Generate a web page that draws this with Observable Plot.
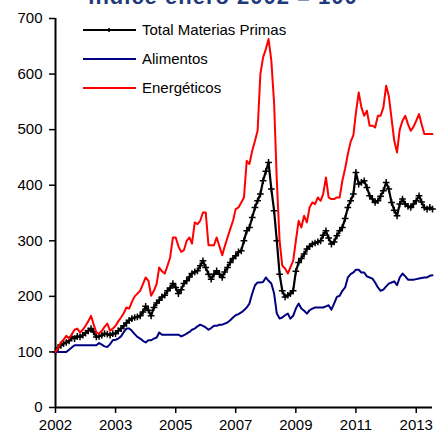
<!DOCTYPE html>
<html>
<head>
<meta charset="utf-8">
<script src="https://cdn.jsdelivr.net/npm/d3@7"></script>
<script src="https://cdn.jsdelivr.net/npm/@observablehq/plot@0.6"></script>
<style>
  html, body { margin: 0; padding: 0; background: #fff; }
  #chart { position: relative; width: 436px; height: 436px; overflow: hidden; }
</style>
</head>
<body>
<div id="chart"></div>
<script>
// Monthly categories: January 2002 to July 2013
const startMonth = "2002-01-01";
const endMonthExclusive = "2013-08-01";

const seriesNames = ["Total Materias Primas", "Alimentos", "Energéticos"];
const seriesColors = ["#000000", "#000080", "#FF0000"];

// Total Materias Primas (índice enero 2002 = 100)
const total = [
  100,108,112,115,117,120,127,124,128,127,130,134,
  138,142,136,127,128,130,133,132,130,133,133,138,
  142,147,152,157,160,162,163,165,172,182,175,165,
  180,188,193,199,202,210,215,223,216,205,212,223,
  228,235,241,244,246,255,264,252,240,231,240,246,
  240,234,244,252,261,268,273,280,282,300,318,324,
  342,360,372,384,408,425,441,393,354,300,240,210,
  199,202,205,210,245,261,268,276,285,290,294,296,
  298,300,310,318,305,294,298,309,318,324,340,360,
  372,384,423,402,405,408,396,381,375,369,372,380,
  390,405,393,369,355,345,366,375,366,362,360,366,
  372,381,370,360,357,360,357
];

// Alimentos
const alimentos = [
  100,100,100,100,100,104,108,112,112,112,112,112,
  112,112,112,112,116,113,110,109,114,121,122,124,
  128,136,142,142,138,132,127,124,120,117,121,121,
  124,126,135,131,131,131,131,131,131,131,128,130,
  133,136,140,142,146,149,147,144,140,143,147,147,
  149,149,151,153,157,162,166,168,171,175,180,187,
  205,220,225,225,226,234,228,223,205,169,160,162,
  166,169,160,165,178,187,178,174,169,175,178,180,
  180,180,180,182,184,176,187,199,201,210,216,234,
  240,243,248,248,243,243,236,234,232,225,216,210,
  212,218,223,225,227,220,234,241,236,230,230,230,
  231,232,233,234,234,237,238
];

// Energéticos
const energeticos = [
  100,108,117,122,129,124,132,140,142,135,140,147,
  155,165,150,135,133,138,145,151,138,142,147,155,
  162,170,180,178,190,200,205,210,222,234,228,201,
  210,223,252,245,241,255,270,306,306,290,280,283,
  300,306,295,333,330,336,351,351,292,292,292,306,
  290,274,290,306,321,336,357,360,369,378,444,438,
  462,480,498,600,630,645,663,624,547,408,300,255,
  250,241,252,264,300,336,324,345,333,360,369,366,
  378,372,384,414,378,375,375,378,378,408,430,456,
  478,490,530,567,540,525,534,507,507,504,525,525,
  540,579,561,520,480,459,500,516,525,510,498,505,
  516,528,510,492,492,492,492
];

// Axis ticks (Excel category axis: one label every 22 months)
const xTickDates = ["2002-01-01","2003-11-01","2005-09-01","2007-07-01","2009-05-01","2011-03-01","2013-01-01"];
const xTickLabels = ["2002","2003","2005","2007","2009","2011","2013"];
const yTicks = [0,100,200,300,400,500,600,700];

const titleText = "Índice enero 2002 = 100";

const months = d3.utcMonth.range(new Date(startMonth), new Date(endMonthExclusive));
const rows = [];
[total, alimentos, energeticos].forEach((vals, s) => {
  vals.forEach((v, i) => rows.push({date: months[i], value: v, series: seriesNames[s]}));
});
const totalRows = rows.filter(d => d.series === seriesNames[0]);
const tickDates = xTickDates.map(d => new Date(d));
const labelFor = new Map(tickDates.map((d, i) => [+d, xTickLabels[i]]));

const plot = Plot.plot({
  width: 436,
  height: 436,
  marginLeft: 55,
  marginRight: 4,
  marginTop: 18,
  marginBottom: 29,
  style: {fontFamily: "'Liberation Sans', Arial, sans-serif", fontSize: "15px", color: "#000", background: "#fff", overflow: "visible"},
  x: {type: "utc", domain: [months[0], months[months.length - 1]]},
  y: {domain: [0, 700]},
  color: {domain: seriesNames, range: seriesColors},
  marks: [
    Plot.axisX({ticks: tickDates, tickFormat: d => labelFor.get(+d), tickSize: 6, tickPadding: 6, stroke: "#000", strokeWidth: 1.5, label: null, fontSize: 15}),
    Plot.axisY({ticks: yTicks, tickSize: 6, tickPadding: 7, stroke: "#000", strokeWidth: 1.5, label: null, fontSize: 15}),
    Plot.ruleY([0], {stroke: "#000", strokeWidth: 2}),
    Plot.ruleX([months[0]], {y1: 0, y2: 700, stroke: "#000", strokeWidth: 2}),
    Plot.line(rows.filter(d => d.series === seriesNames[0]), {x: "date", y: "value", stroke: "series", strokeWidth: 2.2}),
    Plot.dot(totalRows, {x: "date", y: "value", symbol: "plus", r: 2.3, stroke: "#000", strokeWidth: 1.5}),
    Plot.line(rows.filter(d => d.series === seriesNames[1]), {x: "date", y: "value", stroke: "series", strokeWidth: 2}),
    Plot.line(rows.filter(d => d.series === seriesNames[2]), {x: "date", y: "value", stroke: "series", strokeWidth: 2})
  ]
});

document.getElementById("chart").appendChild(plot);

// Title (partly cut off at the top, as in the reference)
const svg = d3.select(plot);
svg.append("text")
  .attr("x", 223).attr("y", 4)
  .attr("text-anchor", "middle")
  .attr("font-size", 22).attr("font-weight", "bold")
  .attr("fill", "#1F3A7A")
  .attr("letter-spacing", "1px")
  .text(titleText);

// Legend inside plot area
const legendRowsY = [30, 59, 88];
const lg = svg.append("g")
  .attr("font-size", 15)
  .attr("font-family", "'Liberation Sans', Arial, sans-serif")
  .attr("text-anchor", "start");
seriesNames.forEach((name, i) => {
  const y = legendRowsY[i];
  lg.append("line").attr("x1", 83).attr("x2", 136).attr("y1", y).attr("y2", y)
    .attr("stroke", seriesColors[i]).attr("stroke-width", 2);
  if (i === 0) {
    lg.append("path").attr("d", `M107,${y}h4M109,${y-2}v4`).attr("stroke", "#000").attr("stroke-width", 1.6);
  }
  lg.append("text").attr("x", 142).attr("y", y).attr("dy", "0.35em")
    .attr("text-anchor", "start").attr("fill", "#000").text(name);
});
</script>
</body>
</html>
